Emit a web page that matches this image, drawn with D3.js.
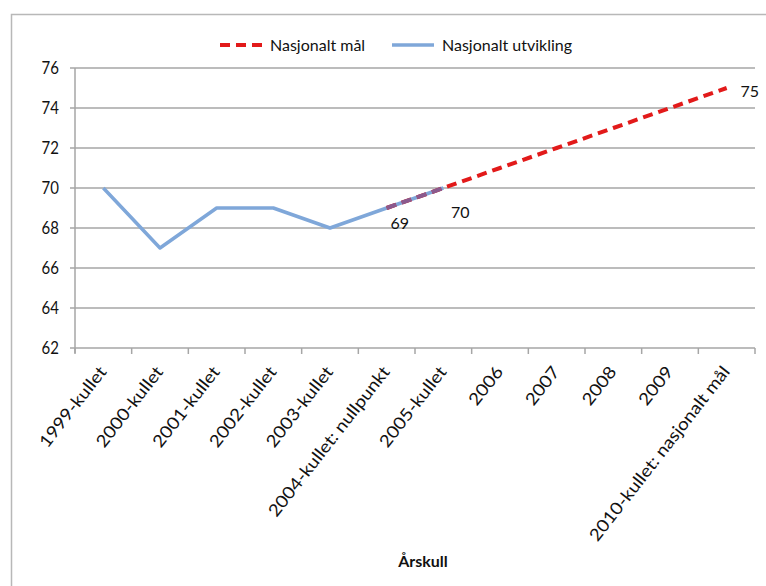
<!DOCTYPE html>
<html>
<head>
<meta charset="utf-8">
<script src="https://cdn.jsdelivr.net/npm/d3@7"></script>
<style>
  body { margin: 0; background: #fff; }
  text { font-family: Lato, "Open Sans", sans-serif; fill: #111; }
</style>
</head>
<body>
<svg id="chart" width="766" height="586"></svg>
<script>
const categories = ["1999-kullet", "2000-kullet", "2001-kullet", "2002-kullet", "2003-kullet",
  "2004-kullet: nullpunkt", "2005-kullet", "2006", "2007", "2008", "2009", "2010-kullet: nasjonalt mål"];
const utvikling = [70, 67, 69, 69, 68, 69, 70];          // 1999..2005
const maal_cats = categories.slice(5);                  // 2004..2010
const maal = [69, 70, 71, 72, 73, 74, 75];
const y_ticks = [62, 64, 66, 68, 70, 72, 74, 76];
const point_labels = [
  { cat: "2004-kullet: nullpunkt", value: 69, dx: 13, dy: 15 },
  { cat: "2005-kullet", value: 70, dx: 17, dy: 24 },
  { cat: "2010-kullet: nasjonalt mål", value: 75, dx: 23, dy: 3 }
];

const svg = d3.select("svg#chart");
const margin = { left: 75, right: 10, top: 68, bottom: 238 };
const width = 755 - margin.left;
const height = 348 - margin.top;
const blue = "#7fa7d9";
const red = "#e21a1a";
const grid_color = "#a6a6a6";

// outer frame (top and left only visible)
svg.append("path")
  .attr("d", "M11.5,586 V14.5 H766")
  .attr("fill", "none")
  .attr("stroke", "#b8b8b8")
  .attr("stroke-width", 1.5);

const chart = svg.append("g")
  .attr("transform", `translate(${margin.left}, ${margin.top})`);

const x = d3.scaleBand(categories, [0, width]);
const y = d3.scaleLinear([62, 76], [height, 0]);
const cx = d => x(d) + x.bandwidth() / 2;

// gridlines
chart.selectAll("line.grid")
  .data(y_ticks)
  .join("line")
  .attr("class", "grid")
  .attr("x1", -5)
  .attr("x2", width)
  .attr("y1", d => y(d))
  .attr("y2", d => y(d))
  .attr("stroke", grid_color)
  .attr("stroke-width", 1.5);

// y axis line
chart.append("line")
  .attr("x1", 0).attr("x2", 0)
  .attr("y1", 0).attr("y2", height + 5)
  .attr("stroke", grid_color)
  .attr("stroke-width", 1.5);

// x ticks at category boundaries
const boundaries = categories.map(d => x(d)).concat([width]);
chart.selectAll("line.xtick")
  .data(boundaries)
  .join("line")
  .attr("class", "xtick")
  .attr("x1", d => d).attr("x2", d => d)
  .attr("y1", height).attr("y2", height + 6)
  .attr("stroke", grid_color)
  .attr("stroke-width", 1.5);

// y labels
chart.selectAll("text.ylabel")
  .data(y_ticks)
  .join("text")
  .attr("class", "ylabel")
  .attr("x", -16)
  .attr("y", d => y(d))
  .attr("dy", "0.35em")
  .attr("text-anchor", "end")
  .attr("transform", d => `translate(0, ${y(d)}) scale(1, 1.15) translate(0, ${-y(d)})`)
  .style("font-size", "15px")
  .text(d => d);

// x labels rotated
chart.selectAll("text.xlabel")
  .data(categories)
  .join("text")
  .attr("class", "xlabel")
  .attr("transform", d => `translate(${cx(d) + 4}, ${height + 24}) rotate(-52) scale(1.12, 1)`)
  .attr("text-anchor", "end")
  .style("font-size", "17px")
  .text(d => d);

// axis title
chart.append("text")
  .attr("x", width / 2 + 8)
  .attr("y", 499)
  .attr("text-anchor", "middle")
  .style("font-size", "16px")
  .style("font-weight", "bold")
  .text("Årskull");

const line = d3.line().x(d => cx(d[0])).y(d => y(d[1]));

chart.append("path")
  .datum(utvikling.map((v, i) => [categories[i], v]))
  .attr("d", line)
  .attr("fill", "none")
  .attr("stroke", blue)
  .attr("stroke-width", 3.5)
  .attr("stroke-linejoin", "round");

chart.append("path")
  .datum(maal.map((v, i) => [maal_cats[i], v]))
  .attr("d", line)
  .attr("fill", "none")
  .attr("stroke", red)
  .attr("stroke-width", 4)
  .attr("stroke-dasharray", "10,6");

// overlap tint where the two lines coincide
chart.append("path")
  .datum(maal.slice(0, 2).map((v, i) => [maal_cats[i], v]))
  .attr("d", line)
  .attr("fill", "none")
  .attr("stroke", "#8a5a8e")
  .attr("stroke-width", 4)
  .attr("stroke-dasharray", "10,6");

// data labels
chart.selectAll("text.plabel")
  .data(point_labels)
  .join("text")
  .attr("class", "plabel")
  .attr("x", d => cx(d.cat) + d.dx)
  .attr("y", d => y(d.value) + d.dy)
  .attr("dy", "0.35em")
  .attr("text-anchor", "middle")
  .style("font-size", "16px")
  .text(d => d.value);

// legend
const legend = svg.append("g");
const legend_items = [
  { name: "Nasjonalt mål", x: 220, color: red, dash: "10,6", w: 4 },
  { name: "Nasjonalt utvikling", x: 392, color: blue, dash: null, w: 3.5 }
];
legend_items.forEach(d => {
  legend.append("line")
    .attr("x1", d.x).attr("x2", d.x + 42)
    .attr("y1", 45).attr("y2", 45)
    .attr("stroke", d.color)
    .attr("stroke-width", d.w)
    .attr("stroke-dasharray", d.dash);
  legend.append("text")
    .attr("x", d.x + 50)
    .attr("y", 45)
    .attr("dy", "0.35em")
    .style("font-size", "16px")
    .text(d.name);
});
</script>
</body>
</html>
